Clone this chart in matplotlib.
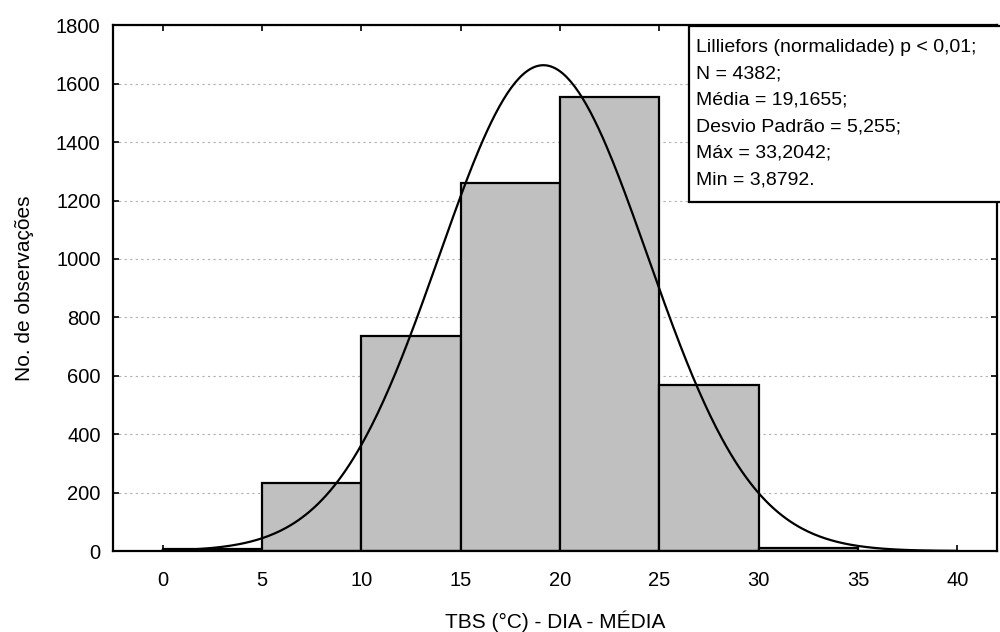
import numpy as np
import matplotlib
matplotlib.use('Agg')
import matplotlib.pyplot as plt
from matplotlib.patches import Rectangle

plt.rcParams['font.family'] = ['Liberation Sans', 'DejaVu Sans']

# histogram data
bin_edges = [0, 5, 10, 15, 20, 25, 30, 35, 40]
counts = [8, 232, 737, 1261, 1553, 570, 12, 0]

# fitted normal parameters (from the stats box)
n_obs = 4382
mean_val = 19.1655
sd_val = 5.255

stats_lines = [
    'Lilliefors (normalidade) p < 0,01;',
    'N = 4382;',
    'Média = 19,1655;',
    'Desvio Padrão = 5,255;',
    'Máx = 33,2042;',
    'Min = 3,8792.',
]

fig = plt.figure(figsize=(10, 6.32), dpi=100)
ax = fig.add_axes([0.113, 0.128, 0.884, 0.832])

lefts = np.array(bin_edges[:-1])
widths = np.diff(bin_edges)
ax.bar(lefts, counts, width=widths, align='edge', color='#c0c0c0',
       edgecolor='black', linewidth=1.6, zorder=2)

# expected-normal curve scaled to counts per bin
bw = widths[0]
xs = np.linspace(0, 40, 400)
ys = n_obs * bw / (sd_val * np.sqrt(2 * np.pi)) * np.exp(-0.5 * ((xs - mean_val) / sd_val) ** 2)
ax.plot(xs, ys, color='black', linewidth=1.6, zorder=3)

ax.set_xlim(-2.5, 42)
ax.set_ylim(0, 1800)
ax.set_xticks(range(0, 41, 5))
ax.set_yticks(range(0, 1801, 200))
ax.yaxis.grid(True, linestyle=(0, (2, 3)), color='#b0b0b0', linewidth=0.8, zorder=0)
ax.set_axisbelow(True)

ax.tick_params(axis='both', direction='in', length=4, width=1.2, labelsize=14.5,
               top=True, right=True)
ax.tick_params(axis='x', pad=14)
ax.tick_params(axis='y', pad=9)
for s in ax.spines.values():
    s.set_linewidth(1.6)

ax.set_xlabel('TBS (°C) - DIA - MÉDIA', fontsize=15, labelpad=15)
ax.set_ylabel('No. de observações', fontsize=15, labelpad=16)

# stats box, running off the right edge like the original
box = Rectangle((0.6516, 0.664), 0.40, 0.334, transform=ax.transAxes,
                facecolor='white', edgecolor='black', linewidth=1.6,
                zorder=4, clip_on=False)
ax.add_patch(box)
ax.text(0.659, 0.974, '\n'.join(stats_lines), transform=ax.transAxes,
        ha='left', va='top', fontsize=14, linespacing=1.73, zorder=5)

fig.savefig('out.png', dpi=100)
